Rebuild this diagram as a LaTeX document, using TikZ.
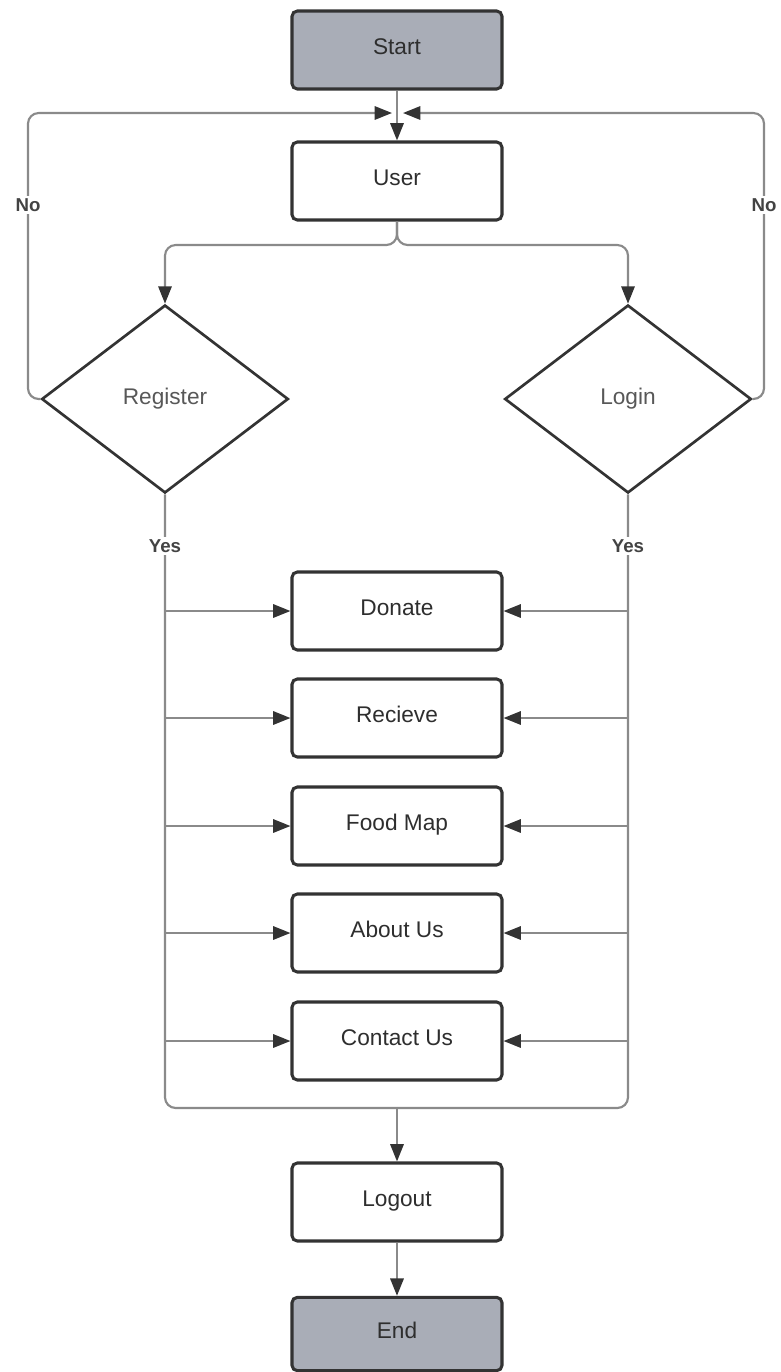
\documentclass[tikz,border=0pt]{standalone}
\usepackage{fontspec}
\setmainfont{Liberation Sans}
\usetikzlibrary{shapes.geometric,arrows.meta}

\definecolor{edgecol}{HTML}{333333}
\definecolor{linkcol}{HTML}{8A8A8A}
\definecolor{termfill}{HTML}{A9ADB7}
\definecolor{txtcol}{HTML}{2E2E2E}

\tikzset{
  boxbase/.style={rectangle, rounded corners=4pt, draw=edgecol, line width=2.3pt,
    minimum width=157.5pt, minimum height=58.5pt, inner sep=0pt,
    text height=12pt, text depth=6pt,
    text=txtcol, font=\fontsize{17}{20}\selectfont},
  procbox/.style={boxbase, fill=white},
  termbox/.style={boxbase, fill=termfill},
  decbox/.style={diamond, draw=edgecol, line width=2pt, fill=white,
    minimum width=185pt, minimum height=141pt, inner sep=0pt,
    text=txtcol!80, font=\fontsize{17}{20}\selectfont},
  link/.style={draw=linkcol, line width=1.6pt, rounded corners=8pt},
  arrowlink/.style={link, -{Triangle[length=13pt,width=10pt,color=edgecol]}},
  lbl/.style={fill=white, inner sep=2pt, text=txtcol!90,
    font=\fontsize{14}{16}\selectfont\bfseries},
}

\begin{document}
\begin{tikzpicture}[x=0.75pt, y=-0.75pt]
\useasboundingbox (0,0) rectangle (781,1372);

% main column
\node[termbox] (start)   at (397,50)   {Start};
\node[procbox] (user)    at (397,181)  {User};
\node[decbox]  (reg)     at (165,399)  {Register};
\node[decbox]  (login)   at (628,399)  {Login};
\node[procbox] (donate)  at (397,611)  {Donate};
\node[procbox] (receive) at (397,718)  {Recieve};
\node[procbox] (foodmap) at (397,826)  {Food Map};
\node[procbox] (about)   at (397,933)  {About Us};
\node[procbox] (contact) at (397,1041) {Contact Us};
\node[procbox] (logout)  at (397,1202) {Logout};
\node[termbox, minimum height=55pt] (end) at (397,1334) {End};

% routing points
\coordinate (jl) at (392,113);
\coordinate (jr) at (403,113);
\coordinate (nl) at (28,113);
\coordinate (nr) at (764,113);
\coordinate (sl) at (165,245);
\coordinate (sr) at (628,245);
\coordinate (bl) at (165,1108);
\coordinate (br) at (628,1108);
\coordinate (bm) at (397,1108);

% start into user
\draw[arrowlink] (start) -- (user);

% "No" loops back to the user
\draw[arrowlink] (reg.west) -| (nl) -- (jl);
\draw[arrowlink] (login.east) -| (nr) -- (jr);
\node[lbl] at (28,205) {No};
\node[lbl] at (764,205) {No};

% user splits into register / login
\draw[arrowlink] (user.south) |- (sl) -- (reg.north);
\draw[arrowlink] (user.south) |- (sr) -- (login.north);

% "Yes" rails down to the shared merge
\draw[link] (reg.south) -- (bl) -- (bm);
\draw[link] (login.south) -- (br) -- (bm);
\node[lbl] at (165,546) {Yes};
\node[lbl] at (628,546) {Yes};

% branches into each menu entry
\foreach \n in {donate,receive,foodmap,about,contact}{
  \draw[arrowlink, rounded corners=0pt] (reg.south |- \n) -- (\n);
  \draw[arrowlink, rounded corners=0pt] (login.south |- \n) -- (\n);
}

% merge into logout and end
\draw[arrowlink] (bm) -- (logout);
\draw[arrowlink] (logout) -- (end);
\end{tikzpicture}
\end{document}
